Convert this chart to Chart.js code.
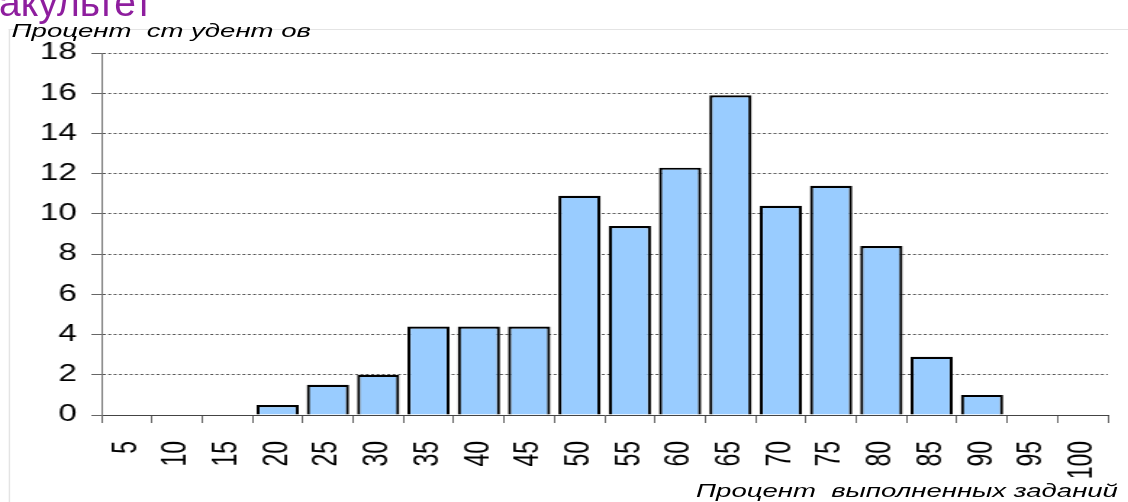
<!DOCTYPE html>
<html>
<head>
<meta charset="utf-8">
<script src="https://cdn.jsdelivr.net/npm/chart.js@4/dist/chart.umd.min.js"></script>
<style>
  html, body { margin: 0; padding: 0; background: #fff; overflow: hidden; }
  /* the source picture is stretched sideways, so the whole chart is drawn narrow and widened */
  #wrap { position: absolute; left: 0; top: 0; width: 778px; height: 502px; transform: scaleX(1.45); transform-origin: 0 0; }
  #frame { position: absolute; left: 6px; top: 29px; width: 800px; height: 480px; border-left: 1px solid #e4e4e4; border-top: 1px solid #e4e4e4; }
  .lbl { position: absolute; font-family: "Liberation Sans", Arial, sans-serif; white-space: nowrap; }
  #head { left: -33px; top: -19px; font-size: 39px; color: #8e1e9e; }
  #ytitle { left: 8px; top: 20px; font-size: 19px; font-style: italic; color: #000; }
  #xtitle { right: 7px; top: 480px; font-size: 19px; font-style: italic; color: #000; }
  canvas { position: absolute; left: 0; top: 0; }
</style>
</head>
<body>
<div id="wrap">
  <div id="frame"></div>
  <canvas id="myChart" width="778" height="502"></canvas>
  <div class="lbl" id="ytitle">Процент&nbsp; ст удент ов</div>
  <div class="lbl" id="xtitle">Процент&nbsp; выполненных заданий</div>
</div>
<div class="lbl" id="head">факультет</div>
<script>
// Data
var categories = ['5', '10', '15', '20', '25', '30', '35', '40', '45', '50',
                  '55', '60', '65', '70', '75', '80', '85', '90', '95', '100'];
var studentPercent = [0, 0, 0, 0.5, 1.5, 2, 4.4, 4.4, 4.4, 10.9,
                      9.4, 12.3, 15.9, 10.4, 11.4, 8.4, 2.9, 1, 0, 0];
var yTicks = [0, 2, 4, 6, 8, 10, 12, 14, 16, 18];

var ctx = document.getElementById('myChart').getContext('2d');
window.myChart = new Chart(ctx, {
  type: 'bar',
  data: {
    labels: categories,
    datasets: [{
      data: studentPercent,
      backgroundColor: '#99ccff',
      borderColor: '#000000',
      borderWidth: 2.2,
      borderSkipped: 'bottom',
      categoryPercentage: 1.0,
      barPercentage: 0.84
    }]
  },
  options: {
    responsive: false,
    animation: false,
    layout: { padding: { left: 0, right: 14, top: 53, bottom: 0 } },
    plugins: { legend: { display: false }, tooltip: { enabled: false } },
    scales: {
      x: {
        grid: {
          offset: true,
          drawOnChartArea: false,
          drawTicks: true,
          tickLength: 8,
          color: '#666666',
          lineWidth: 1
        },
        border: { color: '#444444', width: 1 },
        ticks: {
          minRotation: 90,
          maxRotation: 90,
          padding: 18,
          color: '#000',
          font: { family: '"Liberation Sans", Arial, sans-serif', size: 23 }
        },
        afterFit: function (scale) {
          scale.height = 502 - 415;
          scale.paddingLeft = 0;
          scale.paddingRight = 0;
        }
      },
      y: {
        min: 0,
        max: 18,
        afterBuildTicks: function (scale) {
          scale.ticks = yTicks.map(function (v) { return { value: v }; });
        },
        grid: {
          drawTicks: true,
          tickLength: 7,
          color: '#555555',
          lineWidth: 1,
          tickColor: '#666666',
          tickBorderDash: []
        },
        border: { color: '#777777', width: 1, dash: [2, 1.7] },
        ticks: {
          padding: 10,
          color: '#000',
          font: { family: '"Liberation Sans", Arial, sans-serif', size: 23 }
        },
        afterFit: function (scale) { scale.width = 70; }
      }
    }
  }
});
</script>
</body>
</html>
